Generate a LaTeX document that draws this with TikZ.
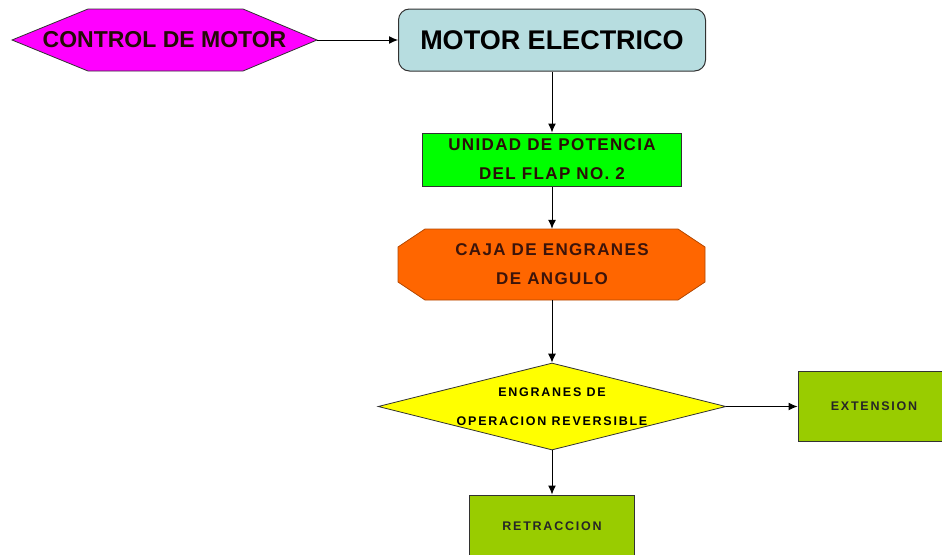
\documentclass[tikz,border=0pt]{standalone}
\usepackage{fontspec}
\setmainfont{Liberation Sans}
\usetikzlibrary{shapes.geometric,arrows.meta}
\definecolor{magentaC}{RGB}{255,0,255}
\definecolor{motorC}{RGB}{183,221,224}
\definecolor{greenC}{RGB}{0,255,0}
\definecolor{orangeC}{RGB}{255,102,0}
\definecolor{yellowC}{RGB}{255,255,0}
\definecolor{oliveC}{RGB}{153,204,0}
\definecolor{edgeC}{RGB}{50,50,50}
\definecolor{txtC}{RGB}{20,20,20}
\definecolor{brownT}{RGB}{60,20,10}
\newfontfamily\spacedA[LetterSpace=8]{Liberation Sans}
\newfontfamily\spacedB[LetterSpace=14]{Liberation Sans}
\tikzset{
  box/.style={draw=edgeC, line width=1pt, inner sep=0pt, align=center, text=txtC},
  conn/.style={line width=1pt, draw=black, -{Latex[length=9pt,width=8pt]}},
}
\begin{document}
\begin{tikzpicture}[x=1pt,y=-1pt]
\useasboundingbox (0,0) rectangle (942,554);
% control hexagon
\draw[draw=edgeC, fill=magentaC, line width=0.8pt]
  (12,40) -- (88,9) -- (243,9) -- (317,40) -- (243,71) -- (88,71) -- cycle;
\node[inner sep=0pt, text=brownT!60!black, font=\bfseries\fontsize{23}{26}\selectfont] (ctrl) at (164.5,40) {CONTROL DE MOTOR};
\coordinate (ctrltip) at (317,40);
% motor
\node[box, fill=motorC, rounded corners=11pt, minimum width=307pt, minimum height=62pt,
  font=\bfseries\fontsize{27}{30}\selectfont, text=black] (motor) at (552,40) {MOTOR ELECTRICO};
% power unit
\node[box, fill=greenC, minimum width=259pt, minimum height=53pt,
  font=\spacedA\bfseries\fontsize{17}{29}\selectfont, text=brownT!70!black] (power) at (552,159.5)
  {UNIDAD DE POTENCIA\\DEL FLAP NO. 2};
% octagon
\draw[draw=orangeC!70!black, fill=orangeC, line width=0.8pt]
  (425,229) -- (678,229) -- (705,247) -- (705,282) -- (678,300) -- (425,300) -- (398,282) -- (398,247) -- cycle;
\node[inner sep=0pt, minimum width=307pt, minimum height=71pt, align=center,
  font=\spacedA\bfseries\fontsize{17}{29}\selectfont, text=brownT] (oct) at (552,264.5)
  {CAJA DE ENGRANES\\DE ANGULO};
% diamond
\node[box, diamond, fill=yellowC, draw=edgeC, line width=0.8pt, minimum width=348pt, minimum height=87pt,
  aspect=4, font=\spacedB\bfseries\fontsize{12.5}{29}\selectfont, text=black] (dia) at (552,406.5)
  {ENGRANES DE\\OPERACION REVERSIBLE};
% extension
\node[box, fill=oliveC, minimum width=152pt, minimum height=70pt,
  font=\spacedB\bfseries\fontsize{12.5}{13}\selectfont, text=black!85] (ext) at (874,406.5) {EXTENSION};
% retraccion
\node[box, fill=oliveC, minimum width=165pt, minimum height=66pt,
  font=\spacedB\bfseries\fontsize{12.5}{13}\selectfont, text=black!85] (ret) at (552,528) {\raisebox{4pt}{RETRACCION}};
% connectors
\draw[conn] (ctrltip) -- (motor.west);
\draw[conn] (motor.south) -- (power.north);
\draw[conn] (power.south) -- (oct.north);
\draw[conn] (oct.south) -- (dia.north);
\draw[conn] (dia.east) -- (ext.west);
\draw[conn] (dia.south) -- (ret.north);
\end{tikzpicture}
\end{document}
